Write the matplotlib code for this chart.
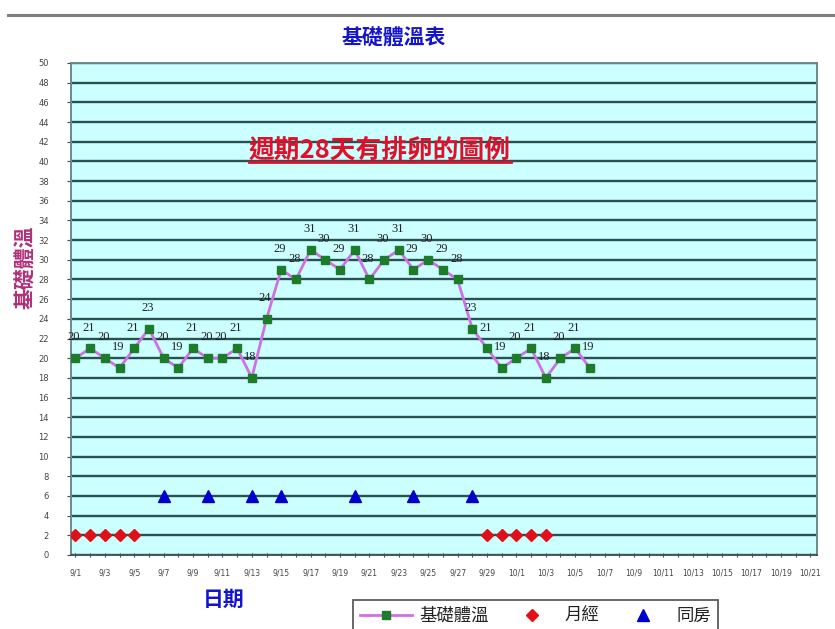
import matplotlib
matplotlib.use("Agg")
import matplotlib.pyplot as plt
from matplotlib.lines import Line2D

plt.rcParams['font.family'] = ['Noto Sans CJK TC', 'DejaVu Sans']

# Calendar days on the x axis (9/1 .. 10/21)
sept_days = [f"9/{d}" for d in range(1, 31)]
oct_days = [f"10/{d}" for d in range(1, 22)]
dates = sept_days + oct_days

# Basal body temperature readings, one per day from 9/1
bbt = [20, 21, 20, 19, 21, 23, 20, 19, 21, 20, 20, 21, 18, 24, 29, 28, 31, 30,
       29, 31, 28, 30, 31, 29, 30, 29, 28, 23, 21, 19, 20, 21, 18, 20, 21, 19]

# Menstruation days and intercourse days
menses_dates = ["9/1", "9/2", "9/3", "9/4", "9/5",
                "9/29", "9/30", "10/1", "10/2", "10/3"]
menses_level = 2
sex_dates = ["9/7", "9/10", "9/13", "9/15", "9/20", "9/24", "9/28"]
sex_level = 6

y_ticks = list(range(0, 51, 2))

W, H = 835, 629
fig = plt.figure(figsize=(W / 100, H / 100), dpi=100)
fig.patch.set_facecolor("white")

ax = fig.add_axes([71 / W, 1 - 555 / H, (817 - 71) / W, (555 - 63) / H])
ax.set_facecolor("#CCFFFF")

x_bbt = list(range(len(bbt)))
x_menses = [dates.index(d) for d in menses_dates]
x_sex = [dates.index(d) for d in sex_dates]

ax.plot(x_bbt, bbt, color="#D070E8", lw=2.0, marker="s", ms=5.5,
        mfc="#1E7B2A", mec="#1E7B2A", zorder=4)
ax.plot(x_menses, [menses_level] * len(x_menses), ls="none", marker="D",
        ms=6.5, mfc="#E0101A", mec="#E0101A", zorder=4)
ax.plot(x_sex, [sex_level] * len(x_sex), ls="none", marker="^",
        ms=8, mfc="#0000CC", mec="#0000CC", zorder=4)

for xi, v in zip(x_bbt, bbt):
    ax.annotate(str(v), (xi, v), xytext=(-1, 15), textcoords="offset points",
                ha="center", va="center", fontsize=9, color="#222222",
                family=["Liberation Serif", "DejaVu Serif"], zorder=5)

ax.set_ylim(0, 50)
ax.set_xlim(-0.3, len(dates) - 1 + 0.45)
ax.set_yticks(y_ticks)
ax.set_yticklabels([str(t) for t in y_ticks])
ax.set_xticks(range(len(dates)))
ax.set_xticklabels([d if i % 2 == 0 else "" for i, d in enumerate(dates)])
ax.tick_params(axis="y", length=3, pad=13, labelsize=6, colors="#444444")
ax.tick_params(axis="x", length=3, pad=8, labelsize=5.5, colors="#444444",
               direction="inout")
for lbl in ax.get_xticklabels() + ax.get_yticklabels():
    lbl.set_family(["DejaVu Sans"])

ax.grid(axis="y", color="#2A5050", lw=1.7, zorder=1)
ax.set_axisbelow(True)
for side, sp in ax.spines.items():
    sp.set_color("#6A8A8A")
    sp.set_linewidth(1.4)
ax.spines["bottom"].set_color("#405858")

# Header rule and titles
fig.add_artist(Line2D([8 / W, 1.0], [1 - 15 / H, 1 - 15 / H],
                      transform=fig.transFigure, color="#808080", lw=2.2))
fig.text(394 / W, 1 - 38 / H, "基礎體溫表", ha="center", va="center",
         fontsize=15, fontweight="bold", color="#1414CC")
fig.text(26 / W, 1 - 267 / H, "基礎體溫", ha="center", va="center",
         rotation=90, fontsize=15, fontweight="bold", color="#B03078")
fig.text(224 / W, 1 - 599 / H, "日期", ha="center", va="center",
         fontsize=15, fontweight="bold", color="#1414CC")

note = fig.text(380 / W, 1 - 150 / H, "週期28天有排卵的圖例", ha="center",
                va="center", fontsize=18.5, fontweight="bold", color="#E0102A")
fig.canvas.draw()
bb = note.get_window_extent()
fig.add_artist(Line2D([bb.x0 / W, bb.x1 / W],
                      [(bb.y0 + 2) / H, (bb.y0 + 2) / H],
                      transform=fig.transFigure, color="#E0102A", lw=2))

handles = [
    Line2D([], [], color="#D070E8", lw=2, marker="s", ms=5.5,
           mfc="#1E7B2A", mec="#1E7B2A"),
    Line2D([], [], ls="none", marker="D", ms=6.5, mfc="#E0101A", mec="#E0101A"),
    Line2D([], [], ls="none", marker="^", ms=8, mfc="#0000CC", mec="#0000CC"),
]
leg = fig.legend(handles, ["基礎體溫", "月經", "同房"], ncol=3,
                 loc="upper left", bbox_to_anchor=(353 / W, 1 - 600 / H),
                 bbox_transform=fig.transFigure, borderaxespad=0,
                 fontsize=12.5, frameon=True, fancybox=False, handlelength=3.0,
                 handletextpad=0.4, columnspacing=1.0, borderpad=0.4)
leg.get_frame().set_edgecolor("#333333")
leg.get_frame().set_linewidth(1.3)
for t in leg.get_texts():
    t.set_color("#222222")

fig.savefig("out.png", dpi=100)
